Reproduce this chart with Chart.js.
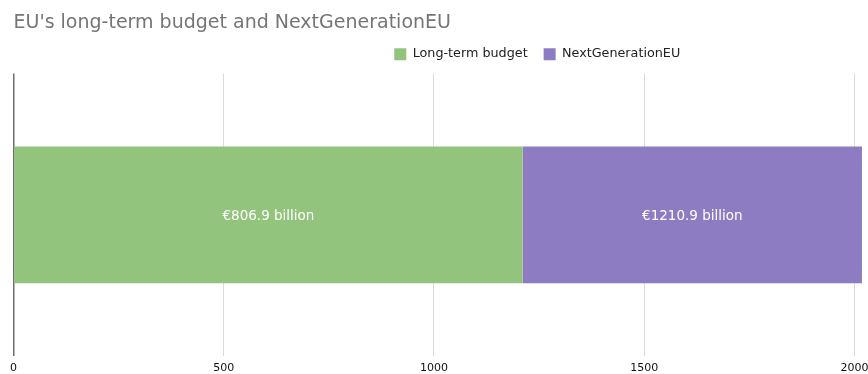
<!DOCTYPE html>
<html>
<head>
<meta charset="utf-8">
<script src="https://cdn.jsdelivr.net/npm/chart.js@4.4.1/dist/chart.umd.min.js"></script>
<style>
  html, body { margin: 0; padding: 0; background: #fff; }
  #wrap { width: 868px; height: 374px; }
</style>
</head>
<body>
<div id="wrap"><canvas id="c" width="868" height="374"></canvas></div>
<script>
const categories = ['EU budget'];
const seriesNames = ['Long-term budget', 'NextGenerationEU'];
const longTermBudget = [1210.9];
const nextGenerationEU = [806.9];
const barLabels = ['€806.9 billion', '€1210.9 billion'];
const xTicks = [0, 500, 1000, 1500, 2000];

const FONT = '"DejaVu Sans", Verdana, sans-serif';

const barLabelPlugin = {
  id: 'barLabels',
  afterDatasetsDraw(chart) {
    const ctx = chart.ctx;
    ctx.save();
    ctx.fillStyle = '#ffffff';
    ctx.font = '13.5px ' + FONT;
    ctx.textAlign = 'center';
    ctx.textBaseline = 'middle';
    chart.data.datasets.forEach((ds, i) => {
      const meta = chart.getDatasetMeta(i);
      meta.data.forEach((el) => {
        const cx = (el.x + el.base) / 2;
        ctx.fillText(barLabels[i], cx, el.y + 2);
      });
    });
    ctx.restore();
  }
};

const legendShift = {
  id: 'legendShift',
  beforeDraw(chart) {
    const lg = chart.legend;
    if (lg && !lg._shifted) {
      lg.left += 198;
      lg.right -= 2;
      lg.top -= 3;
      lg.bottom -= 3;
      lg._shifted = true;
    }
  },
  afterUpdate(chart) { if (chart.legend) chart.legend._shifted = false; }
};

new Chart(document.getElementById('c'), {
  type: 'bar',
  data: {
    labels: categories,
    datasets: [
      { label: seriesNames[0], data: longTermBudget, backgroundColor: '#93c47d', borderWidth: 0 },
      { label: seriesNames[1], data: nextGenerationEU, backgroundColor: '#8e7cc3', borderWidth: 0 }
    ]
  },
  options: {
    indexAxis: 'y',
    responsive: false,
    animation: false,
    layout: { padding: { left: 13.5, right: 3, top: 0, bottom: 0 } },
    datasets: { bar: { categoryPercentage: 1, barPercentage: 0.484 } },
    scales: {
      x: {
        stacked: true,
        min: 0, max: 2025,
        afterBuildTicks(axis) { axis.ticks = xTicks.map(v => ({ value: v })); },
        afterFit(scale) {
          scale.paddingLeft = 0;
          scale.paddingRight = 0;
          scale.height = 18;
        },
        border: { display: false },
        grid: {
          color: (c) => c.tick && c.tick.value === 0 ? '#6e6e6e' : '#d9d9d9',
          lineWidth: (c) => c.tick && c.tick.value === 0 ? 1.5 : 1,
          drawTicks: false
        },
        ticks: {
          color: '#111', font: { family: FONT, size: 11 }, padding: 6,
          callback: (v) => String(v)
        }
      },
      y: { stacked: true, display: false }
    },
    plugins: {
      title: {
        display: true,
        text: "EU's long-term budget and NextGenerationEU",
        align: 'start',
        color: '#757575',
        font: { family: FONT, size: 19, weight: 'normal' },
        padding: { top: 12, bottom: 0 }
      },
      legend: {
        position: 'top',
        align: 'center',
        labels: {
          boxWidth: 12, boxHeight: 12,
          color: '#222',
          font: { family: FONT, size: 12.75 },
          padding: 16
        }
      },
      tooltip: { enabled: false }
    }
  },
  plugins: [barLabelPlugin, legendShift]
});
</script>
</body>
</html>
